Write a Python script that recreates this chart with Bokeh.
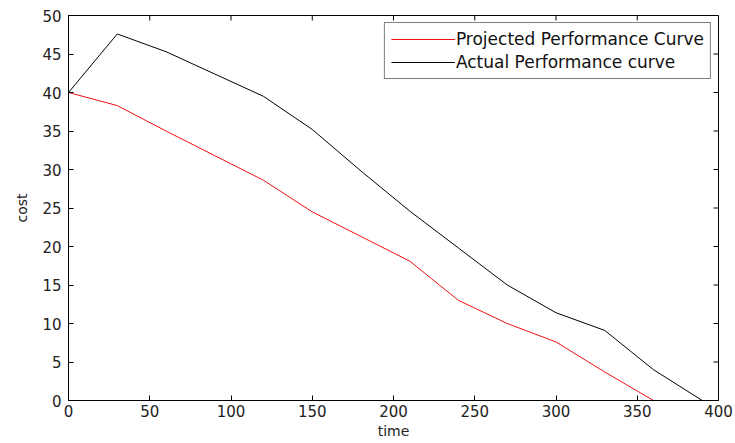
import math
from bokeh.plotting import figure
from bokeh.models import Legend, LegendItem, Range1d, FixedTicker
from bokeh.embed import file_html
from bokeh.resources import INLINE

time = [0, 30, 60, 90, 120, 150, 180, 210, 240, 270, 300, 330, 360, 390]
projected_time = [0, 30, 60, 90, 120, 150, 180, 210, 240, 270, 300, 330, 360]
projected_cost = [40, 38.3, 35.0, 31.8, 28.6, 24.5, 21.3, 18.1, 13.0, 10.0, 7.6, 3.7, 0]
actual_cost = [40, 47.6, 45.3, 42.4, 39.5, 35.2, 29.8, 24.6, 19.8, 15.0, 11.4, 9.1, 4.0, 0]
x_ticks = [0, 50, 100, 150, 200, 250, 300, 350, 400]
y_ticks = [0, 5, 10, 15, 20, 25, 30, 35, 40, 45, 50]
x_max = 400
y_max = 50

FONT = "DejaVu Sans"

p = figure(width=735, height=443, output_backend="svg", toolbar_location=None,
           x_range=Range1d(0, x_max), y_range=Range1d(0, y_max),
           min_border_left=68, min_border_right=17, min_border_top=15, min_border_bottom=43,
           background_fill_color="white", border_fill_color="white")
p.outline_line_color = "black"
p.outline_line_width = 1
p.grid.visible = False

r_proj = p.line(projected_time, projected_cost, line_color="#ee1111", line_width=1)
r_act = p.line(time, actual_cost, line_color="black", line_width=1)

# inward ticks on the top and right edges (box ticks)
p.ray(x=x_ticks, y=[y_max] * len(x_ticks), length=5, length_units="screen",
      angle=-math.pi / 2, line_color="black", line_width=1)
p.ray(x=[x_max] * len(y_ticks), y=y_ticks, length=5, length_units="screen",
      angle=math.pi, line_color="black", line_width=1)

xa = p.xaxis[0]
xa.ticker = FixedTicker(ticks=x_ticks)
ya = p.yaxis[0]
ya.ticker = FixedTicker(ticks=y_ticks)
for ax in (xa, ya):
    ax.major_tick_in = 5
    ax.major_tick_out = 0
    ax.minor_tick_in = 0
    ax.minor_tick_out = 0
    ax.axis_line_color = "black"
    ax.major_tick_line_color = "black"
    ax.major_label_text_font = FONT
    ax.major_label_text_font_size = "15px"
    ax.major_label_text_color = "#222222"
    ax.axis_label_text_font = FONT
    ax.axis_label_text_font_size = "14px"
    ax.axis_label_text_font_style = "normal"
    ax.axis_label_text_color = "#222222"
xa.axis_label = "time"
ya.axis_label = "cost"
xa.major_label_standoff = 4
xa.axis_label_standoff = 3
ya.major_label_standoff = 7
ya.axis_label_standoff = 9

legend = Legend(items=[
    LegendItem(label="Projected Performance Curve", renderers=[r_proj]),
    LegendItem(label="Actual Performance curve", renderers=[r_act]),
], location="top_right")
legend.label_text_font = FONT
legend.label_text_font_size = "17px"
legend.label_text_color = "#111111"
legend.glyph_width = 64
legend.glyph_height = 20
legend.label_height = 20
legend.spacing = 3
legend.padding = 6
legend.margin = 7
legend.label_standoff = 1
legend.border_line_color = "black"
legend.border_line_width = 1
legend.background_fill_alpha = 1
p.add_layout(legend)

open("out.html", "w").write(file_html(p, INLINE))
